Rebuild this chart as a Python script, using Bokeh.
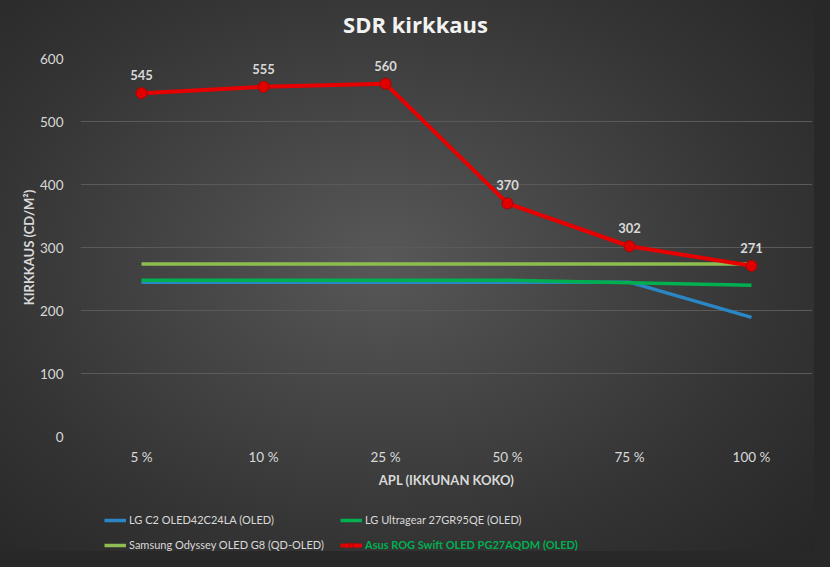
from bokeh.plotting import figure
from bokeh.models import (FactorRange, Range1d, Legend, LegendItem,
                          ColumnDataSource, FixedTicker)
from bokeh.layouts import column
from bokeh.core.properties import value
from bokeh.embed import file_html
from bokeh.resources import INLINE

chart_title = "SDR kirkkaus"
categories = ["5 %", "10 %", "25 %", "50 %", "75 %", "100 %"]
lg_c2 = [245, 245, 245, 245, 245, 189]
lg_ultragear = [248, 248, 248, 248, 244, 240]
samsung_g8 = [274, 274, 274, 274, 274, 274]
asus_pg27aqdm = [545, 555, 560, 370, 302, 271]
y_ticks = [0, 100, 200, 300, 400, 500, 600]
series_names = ["LG C2 OLED42C24LA (OLED)", "LG Ultragear 27GR95QE (OLED)",
                "Samsung Odyssey OLED G8 (QD-OLED)", "Asus ROG Swift OLED PG27AQDM (OLED)"]

FONT = "Lato"
TXT = "#d9d9d9"
C_BLUE, C_GREEN, C_LIME, C_RED = "#2b86c5", "#00b050", "#8fbd52", "#e60000"


def strip(height, x_range, y_range):
    f = figure(width=814, height=height, output_backend="svg", toolbar_location=None,
               x_range=x_range, y_range=y_range,
               x_axis_type=None, y_axis_type=None,
               min_border=0, min_border_left=0, min_border_right=0,
               min_border_top=0, min_border_bottom=0)
    f.border_fill_color = None
    f.background_fill_color = None
    f.outline_line_color = None
    f.grid.grid_line_color = None
    return f


# title strip (frame aligned with chart frame: x in page pixels 80..812)
tf = strip(46, Range1d(80, 812), Range1d(0, 46))
tf.text(x=[415], y=[23], text=[chart_title], text_align="center",
        text_baseline="middle", text_font=value("Open Sans"),
        text_font_size="22px", text_font_style="bold", text_color="#f2f2f2")

# main chart
p = figure(width=814, height=454, output_backend="svg", toolbar_location=None,
           x_range=FactorRange(factors=categories, range_padding=0),
           y_range=Range1d(0, 600),
           min_border_left=80, min_border_right=2,
           min_border_top=12, min_border_bottom=64)
p.border_fill_color = None
p.background_fill_color = None
p.outline_line_color = None

p.yaxis.ticker = FixedTicker(ticks=y_ticks)
for ax in (p.xaxis[0], p.yaxis[0]):
    ax.axis_line_color = None
    ax.major_tick_line_color = None
    ax.minor_tick_line_color = None
    ax.major_tick_out = 0
    ax.major_label_text_font = FONT
    ax.major_label_text_font_size = "13.5px"
    ax.major_label_text_color = TXT
    ax.axis_label_text_font = FONT
    ax.axis_label_text_font_size = "13px"
    ax.axis_label_text_font_style = "bold"
    ax.axis_label_text_color = TXT

p.yaxis.axis_label = "KIRKKAUS (CD/M²)"
p.yaxis.major_label_standoff = 17
p.yaxis.axis_label_standoff = 0
p.xaxis.axis_label = "APL (IKKUNAN KOKO)"
p.xaxis.major_label_standoff = 12
p.xaxis.axis_label_standoff = 4

p.xgrid.grid_line_color = None
p.ygrid.grid_line_color = "#5a5a5a"
p.ygrid.grid_line_width = 1

src = ColumnDataSource(dict(x=categories, c2=lg_c2, ug=lg_ultragear,
                            sg=samsung_g8, asus=asus_pg27aqdm,
                            lbl=[str(v) for v in asus_pg27aqdm]))

p.line("x", "c2", source=src, line_color=C_BLUE, line_width=3.5)
p.line("x", "ug", source=src, line_color=C_GREEN, line_width=3.5)
p.line("x", "sg", source=src, line_color=C_LIME, line_width=3.5)
p.line("x", "asus", source=src, line_color=C_RED, line_width=4)
p.scatter("x", "asus", source=src, size=11, fill_color="#e00000",
          line_color="#b00000", line_width=1)

p.text("x", "asus", text="lbl", source=src, text_align="center",
       text_baseline="middle", y_offset=-18, text_font=value(FONT),
       text_font_size="13px", text_font_style="bold", text_color=TXT)

# legend strip below the chart
lf = strip(51, Range1d(0, 10), Range1d(0, 10))

hx, hy = [-50, -40], [-50, -50]   # legend-only renderers, outside the visible range
e_c2 = lf.line(x=hx, y=hy, line_color=C_BLUE, line_width=3.5)
e_ug = lf.line(x=hx, y=hy, line_color=C_GREEN, line_width=3.5)
e_sg = lf.line(x=hx, y=hy, line_color=C_LIME, line_width=3.5)
e_as = lf.line(x=hx, y=hy, line_color=C_RED, line_width=4)
e_asm = lf.scatter(x=hx, y=hy, size=11, fill_color="#e00000",
                   line_color="#b00000", line_width=1)


def add_legend(label, renderers, vx, vy, color=TXT, style="normal"):
    lg = Legend(items=[LegendItem(label=label, renderers=renderers)],
                location=(vx, vy), orientation="horizontal",
                padding=0, margin=0, spacing=0, border_line_color=None,
                background_fill_alpha=0, glyph_width=22, glyph_height=12,
                label_height=12, label_standoff=3,
                label_text_font=FONT, label_text_font_size="11px",
                label_text_color=color, label_text_font_style=style)
    lf.add_layout(lg, "center")


add_legend(series_names[0], [e_c2], 24, 25)
add_legend(series_names[1], [e_ug], 260, 25)
add_legend(series_names[2], [e_sg], 24, 0)
add_legend(series_names[3], [e_as, e_asm], 260, 0, color=C_GREEN, style="bold")

layout = column(tf, p, lf, spacing=0)
layout.styles = {
    "background": "radial-gradient(ellipse 75% 80% at 47% 47%, #585858 0%, #474747 30%, #343434 65%, #252525 100%)",
    "box-shadow": "0 0 0 16px #282828",
}

open("out.html", "w").write(file_html(layout, INLINE))
